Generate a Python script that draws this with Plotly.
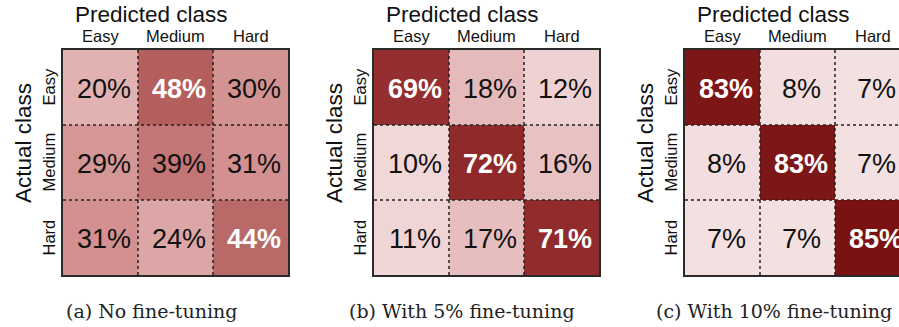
import plotly.graph_objects as go

# ---- data ----
classes = ["Easy", "Medium", "Hard"]
captions = ["(a) No fine-tuning", "(b) With 5% fine-tuning", "(c) With 10% fine-tuning"]
no_ft = [[20, 48, 30],
         [29, 39, 31],
         [31, 24, 44]]
ft5 = [[69, 18, 12],
       [10, 72, 16],
       [11, 17, 71]]
ft10 = [[83, 8, 7],
        [8, 83, 7],
        [7, 7, 85]]
matrices = [no_ft, ft5, ft10]

# ---- layout helpers (pixel -> paper) ----
W, H = 899, 327
def px(x):
    return x / W
def py(y):
    return 1 - y / H

SANS = "Liberation Sans, Arial, sans-serif"
SERIF = "DejaVu Serif, serif"
colorscale = [
    [0.00, "#f8eeee"],
    [0.07, "#f3e1e1"],
    [0.12, "#eed2d3"],
    [0.20, "#e2b2b2"],
    [0.31, "#d29090"],
    [0.39, "#c27676"],
    [0.48, "#b45e5e"],
    [0.69, "#952e30"],
    [0.85, "#7a1212"],
    [1.00, "#600808"],
]

panel_left = [63, 374, 685]
cell = 75
top, bottom = 50, 275

fig = go.Figure()
annotations = []
shapes = []
for i, (m, cap) in enumerate(zip(matrices, captions)):
    k = "" if i == 0 else str(i + 1)
    xa, ya = "x" + k, "y" + k
    left = panel_left[i]
    right = left + 3 * cell
    fig.add_trace(go.Heatmap(
        z=m, x=[0, 1, 2], y=[0, 1, 2], xaxis=xa, yaxis=ya,
        colorscale=colorscale, zmin=0, zmax=100, showscale=False,
        hoverinfo="skip"))
    dom_right = min(right, W)
    xmax = -0.5 + (dom_right - left) / cell
    fig.layout["xaxis" + k] = dict(
        domain=[px(left), px(dom_right)], range=[-0.5, xmax], anchor=ya,
        showticklabels=False, showgrid=False, zeroline=False, ticks="",
        showline=True, mirror=True, linecolor="#2a2a2a", linewidth=2)
    fig.layout["yaxis" + k] = dict(
        domain=[py(bottom), py(top)], range=[2.5, -0.5], anchor=xa,
        showticklabels=False, showgrid=False, zeroline=False, ticks="",
        showline=True, mirror=(right <= W), linecolor="#2a2a2a", linewidth=2)
    # dotted inner grid
    for b in (0.5, 1.5):
        shapes.append(dict(type="line", xref=xa, yref=ya, x0=b, x1=b, y0=-0.5, y1=2.5,
                           line=dict(color="#222", width=1.5, dash="dot")))
        shapes.append(dict(type="line", xref=xa, yref=ya, x0=-0.5, x1=min(2.5, xmax), y0=b, y1=b,
                           line=dict(color="#222", width=1.5, dash="dot")))
    # cell values
    for r in range(3):
        for c in range(3):
            v = m[r][c]
            strong = v >= 40
            annotations.append(dict(
                xref=xa, yref=ya, x=c, y=r, xshift=3.5, yshift=-1,
                xanchor="center", yanchor="middle",
                text=f"<b>{v}%</b>" if strong else f"{v}%", showarrow=False,
                font=dict(family=SANS, size=27, color="white" if strong else "#111")))
    # column labels
    for c, name in enumerate(classes):
        annotations.append(dict(xref=xa, yref="paper", x=c, y=py(36),
                                xanchor="center", yanchor="middle",
                                text=name, showarrow=False,
                                font=dict(family=SANS, size=16.5, color="#111")))
    # row labels
    for r, name in enumerate(classes):
        annotations.append(dict(xref="paper", yref=ya, x=px(left - 15), y=r,
                                xanchor="center", yanchor="middle",
                                text=name, textangle=-90, showarrow=False,
                                font=dict(family=SANS, size=16.5, color="#111")))
    center = left + 88
    annotations.append(dict(xref="paper", yref="paper", x=px(center), y=py(14),
                            xanchor="center", yanchor="middle",
                            text="Predicted class", showarrow=False,
                            font=dict(family=SANS, size=22.5, color="#111")))
    annotations.append(dict(xref="paper", yref="paper", x=px(left - 40), y=py(143),
                            xanchor="center", yanchor="middle",
                            text="Actual class", textangle=-90, showarrow=False,
                            font=dict(family=SANS, size=22.5, color="#111")))
    annotations.append(dict(xref="paper", yref="paper", x=px(center + 0.5), y=py(311),
                            xanchor="center", yanchor="middle",
                            text=cap, showarrow=False,
                            font=dict(family=SERIF, size=19, color="#222")))

fig.update_layout(width=W, height=H, margin=dict(l=0, r=0, t=0, b=0),
                  paper_bgcolor="white", plot_bgcolor="white",
                  annotations=annotations, shapes=shapes)
fig.write_html("out.html")
